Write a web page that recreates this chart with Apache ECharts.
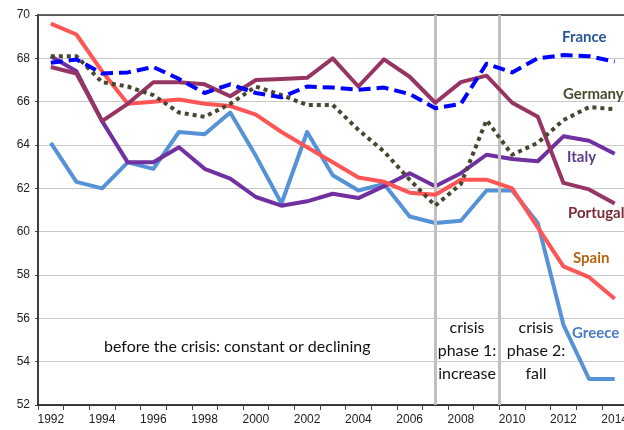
<!DOCTYPE html>
<html><head><meta charset="utf-8">
<script src="https://cdn.jsdelivr.net/npm/echarts@6/dist/echarts.min.js"></script>
<style>html,body{margin:0;padding:0;background:#fff}#c{width:624px;height:430px}</style>
</head><body><div id="c"></div>
<script>
const years = ['1992','1993','1994','1995','1996','1997','1998','1999','2000','2001','2002','2003','2004','2005','2006','2007','2008','2009','2010','2011','2012','2013','2014'];
const france   = [67.8, 67.95, 67.3, 67.35, 67.6, 67.05, 66.4, 66.8, 66.4, 66.2, 66.7, 66.65, 66.55, 66.65, 66.35, 65.7, 65.9, 67.75, 67.35, 68.0, 68.15, 68.1, 67.85];
const germany  = [68.1, 68.1, 66.9, 66.7, 66.3, 65.5, 65.3, 65.9, 66.7, 66.3, 65.85, 65.85, 64.7, 63.7, 62.4, 61.2, 62.2, 65.15, 63.55, 64.1, 65.15, 65.75, 65.65];
const italy    = [68.1, 67.4, 65.1, 63.2, 63.2, 63.9, 62.9, 62.45, 61.6, 61.2, 61.4, 61.75, 61.55, 62.1, 62.7, 62.1, 62.7, 63.55, 63.35, 63.25, 64.4, 64.2, 63.6];
const portugal = [67.6, 67.3, 65.1, 65.9, 66.9, 66.9, 66.8, 66.25, 67.0, 67.05, 67.1, 68.0, 66.7, 67.95, 67.15, 65.95, 66.9, 67.2, 65.95, 65.3, 62.25, 61.95, 61.3];
const spain    = [69.6, 69.1, 67.4, 65.9, 66.0, 66.1, 65.9, 65.8, 65.4, 64.6, 63.9, 63.2, 62.5, 62.3, 61.8, 61.7, 62.4, 62.4, 62.0, 60.2, 58.4, 57.9, 56.9];
const greece   = [64.1, 62.3, 62.0, 63.2, 62.9, 64.6, 64.5, 65.5, 63.5, 61.3, 64.6, 62.6, 61.9, 62.2, 60.7, 60.4, 60.5, 61.9, 61.9, 60.4, 55.7, 53.2, 53.2];
const phaseLines = [2007, 2009.5];

const chart = echarts.init(document.getElementById('c'), null, {renderer: 'canvas'});
function line(name, data, color, type, z) {
  return {name, type: 'line', data, symbol: 'none', z: z,
    lineStyle: {color, width: 4, type: type, cap: 'butt', join: 'round'}};
}
const txt = (x, y, s, color) => ({type: 'text', x: x, y: y, z: 100,
  style: {text: s, fill: color, font: 'bold 15px Lato', textAlign: 'left', textVerticalAlign: 'middle'}});
const note = (x, y, s) => ({type: 'text', x: x, y: y, z: 100,
  style: {text: s, fill: '#111', font: '16px Lato', lineHeight: 23, textAlign: 'center', textVerticalAlign: 'middle'}});
chart.setOption({
  animation: false,
  grid: {left: 38, top: 15, width: 589.5, height: 390, containLabel: false, outerBoundsMode: 'none'},
  xAxis: [{
    type: 'category', data: years, boundaryGap: true,
    axisLine: {lineStyle: {color: '#000', width: 1.5}},
    axisTick: {show: true, interval: 0, length: 5, lineStyle: {color: '#444'}},
    axisLabel: {interval: 1, color: '#222', fontFamily: 'Liberation Sans', fontSize: 12, margin: 9, hideOverlap: false},
    splitLine: {show: false}
  }, {
    type: 'value', min: 1991.5, max: 2014.5, position: 'top',
    axisLine: {show: true, onZero: false, lineStyle: {color: '#333', width: 1.5}},
    axisTick: {show: false}, axisLabel: {show: false}, splitLine: {show: false}
  }],
  yAxis: {
    type: 'value', min: 52, max: 70, interval: 2,
    axisLine: {show: true, lineStyle: {color: '#000', width: 1.5}},
    axisTick: {show: true, length: 3, lineStyle: {color: '#444'}},
    axisLabel: {color: '#222', fontFamily: 'Liberation Sans', fontSize: 12, margin: 8},
    splitLine: {lineStyle: {color: '#c8c8c8', width: 1.2}}
  },
  series: [
    {type: 'line', xAxisIndex: 1, data: [], symbol: 'none', silent: true, z: 1,
      markLine: {symbol: 'none', silent: true, label: {show: false},
        lineStyle: {color: '#c0c0c0', width: 3, type: 'solid'},
        data: phaseLines.map(v => ({xAxis: v}))}},
    line('Greece', greece, '#5592d6', 'solid', 3),
    line('Italy', italy, '#7030a0', 'solid', 4),
    line('Spain', spain, '#ff5555', 'solid', 5),
    line('Portugal', portugal, '#963463', 'solid', 6),
    line('Germany', germany, '#4a4530', 'dotted', 7),
    line('France', france, '#0000ff', [12, 6], 8)
  ],
  graphic: [
    txt(562, 37, 'France', '#2a579a'),
    txt(563, 94, 'Germany', '#4c4a2c'),
    txt(567, 157, 'Italy', '#5b3b8c'),
    txt(568, 213, 'Portugal', '#7b2a37'),
    txt(573, 258, 'Spain', '#b5630d'),
    txt(572, 333, 'Greece', '#4a7cc4'),
    {type: 'text', x: 104, y: 347, z: 100, style: {text: 'before the crisis: constant or declining', fill: '#111', font: '16px Lato', textVerticalAlign: 'middle'}},
    note(467, 351, 'crisis\nphase 1:\nincrease'),
    note(536, 351, 'crisis\nphase 2:\nfall')
  ]
});
</script></body></html>
